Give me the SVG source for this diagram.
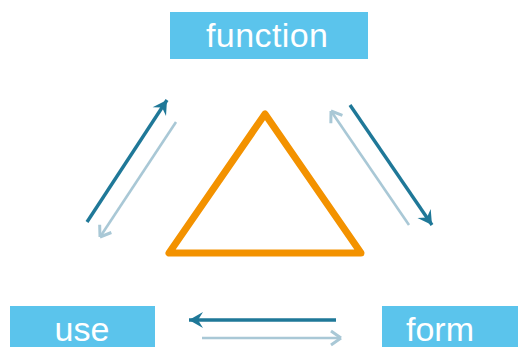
<svg xmlns="http://www.w3.org/2000/svg" width="518" height="347" viewBox="0 0 518 347">
<style>
.box{fill:#5BC4EC}
.lbl{fill:#ffffff;font-family:"Liberation Sans",Arial,sans-serif;font-size:34px;text-anchor:middle}
.dark{stroke:#1F7898;stroke-width:3.4;fill:none}
.light{stroke:#A9C8D6;stroke-width:2.6;fill:none}
</style>
<defs>
<marker id="mDark" markerUnits="userSpaceOnUse" markerWidth="20" markerHeight="20" viewBox="-15 -10 17 20" refX="0" refY="0" orient="auto">
<path d="M0,0 L-14,-8 L-9,0 L-14,8 Z" fill="#1F7898"/>
</marker>
<marker id="mLight" markerUnits="userSpaceOnUse" markerWidth="20" markerHeight="20" viewBox="-15 -10 17 20" refX="0" refY="0" orient="auto">
<path d="M0,0 L-10,-7 M0,0 L-10,7" stroke="#A9C8D6" stroke-width="3" fill="none"/>
</marker>
</defs>
<rect width="518" height="347" fill="#ffffff"/>
<g id="function">
<rect class="box" x="170" y="12" width="198" height="47"/>
<text class="lbl" x="267" y="47" textLength="122">function</text>
</g>
<g id="use">
<rect class="box" x="10" y="306" width="145" height="41"/>
<text class="lbl" x="82" y="341">use</text>
</g>
<g id="form">
<rect class="box" x="382" y="306" width="136" height="41"/>
<text class="lbl" x="440" y="341">form</text>
</g>
<g id="triangle">
<polygon points="265,114 169,253 361,253" fill="none" stroke="#F39200" stroke-width="7" stroke-linejoin="round"/>
</g>
<g id="connectors">
<line class="dark" x1="87" y1="222" x2="167" y2="100" marker-end="url(#mDark)"/>
<line class="light" x1="176" y1="122" x2="100" y2="237" marker-end="url(#mLight)"/>
<line class="dark" x1="350" y1="105" x2="432" y2="225" marker-end="url(#mDark)"/>
<line class="light" x1="409" y1="225" x2="331" y2="111" marker-end="url(#mLight)"/>
<line class="dark" x1="336" y1="320" x2="189" y2="320" marker-end="url(#mDark)"/>
<line class="light" x1="202" y1="338" x2="341" y2="338" marker-end="url(#mLight)"/>
</g>
</svg>
